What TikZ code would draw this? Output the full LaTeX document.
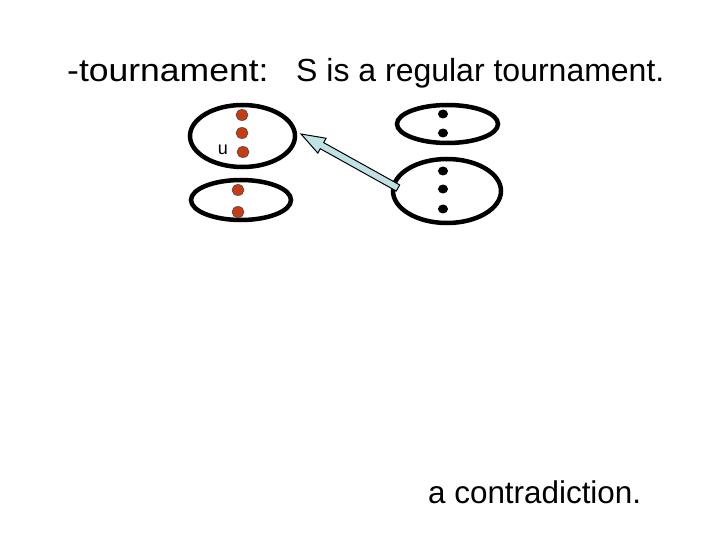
\documentclass[tikz,border=0pt]{standalone}
\usepackage{fontspec}
\setmainfont{Liberation Sans}
\usetikzlibrary{calc,shapes.geometric}
\definecolor{dotred}{RGB}{200,60,20}
\definecolor{arrowblue}{RGB}{192,226,228}
\tikzset{
  setell/.style={draw=black, line width=4.5pt, ellipse, inner sep=0pt},
  reddot/.style={ellipse, fill=dotred, draw=black!70, line width=0.6pt, minimum width=12pt, minimum height=11pt, inner sep=0pt},
  blackdot/.style={ellipse, fill=black, minimum width=10pt, minimum height=9pt, inner sep=0pt},
  bigtext/.style={font=\fontsize{32}{38}\selectfont, inner sep=0pt, anchor=base west},
}
\begin{document}
\begin{tikzpicture}[x=1pt,y=-1pt]
\useasboundingbox (0,0) rectangle (720,540);
% title
\node[bigtext] (t1) at (67,82) {\scalebox{1.11}[1]{-tournament:}};
\node[bigtext] (t2) at (296,82) {S is a regular tournament.};
% ellipses
\node[setell, minimum width=105pt, minimum height=62pt] (A) at (242.5,136) {};
\node[setell, minimum width=100pt, minimum height=40pt] (B) at (241,200) {};
\node[setell, minimum width=101pt, minimum height=38pt] (C) at (447.5,124) {};
\node[setell, minimum width=108pt, minimum height=64pt] (D) at (447,191) {};
% red dots
\node[reddot] (a1) at (242,115) {};
\node[reddot] (a2) at (242,133) {};
\node[reddot] (a3) at (243,152) {};
\node[font=\fontsize{18}{20}\selectfont, inner sep=0pt] (u) at (223,150) {u};
\node[reddot] (b1) at (238,190) {};
\node[reddot] (b2) at (238,212) {};
% black dots
\node[blackdot] (c1) at (443,114) {};
\node[blackdot] (c2) at (443,133) {};
\node[blackdot] (d1) at (443,171) {};
\node[blackdot] (d2) at (443,189) {};
\node[blackdot] (d3) at (443,209) {};
% block arrow
\coordinate (tip) at (301,134);
\coordinate (tail) at (398,188);
\coordinate (hb) at ($(tip)!24pt!(tail)$);
\draw[fill=arrowblue, draw=black, line width=1pt, line join=miter]
  (tip)
  -- ($(hb)!8.5pt!90:(tip)$)
  -- ($(hb)!3.5pt!90:(tip)$)
  -- ($(tail)!3.5pt!90:(tip)$)
  -- ($(tail)!3.5pt!-90:(tip)$)
  -- ($(hb)!3.5pt!-90:(tip)$)
  -- ($(hb)!8.5pt!-90:(tip)$)
  -- cycle;
% bottom text
\node[bigtext] (t3) at (428,503) {\fontsize{31.4}{38}\selectfont a contradiction.};
\end{tikzpicture}
\end{document}
